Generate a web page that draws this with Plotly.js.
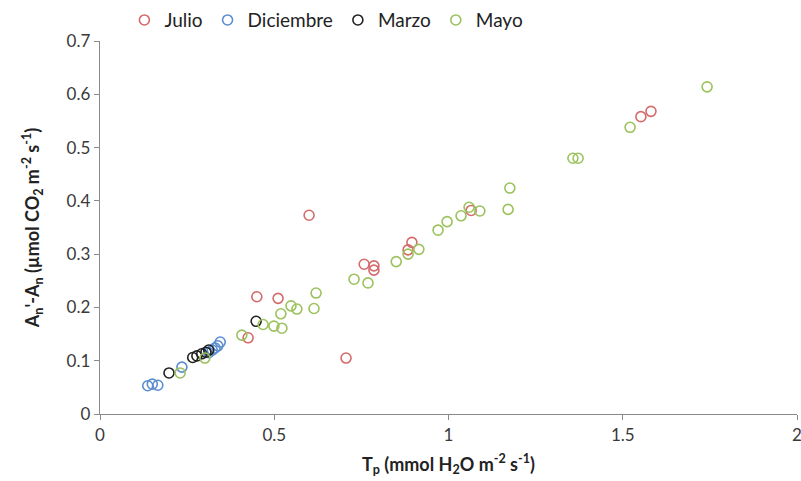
<!DOCTYPE html>
<html>
<head>
<meta charset="utf-8">
<script src="https://cdn.plot.ly/plotly-3.0.1.min.js"></script>
<style>html,body{margin:0;padding:0;background:#fff;}#chart{width:801px;height:481px;}</style>
</head>
<body>
<div id="chart"></div>
<script>
const julioX = [0.600, 0.895, 0.884, 0.758, 0.786, 0.786, 0.450, 0.511, 0.425, 0.706, 1.065, 1.552, 1.581];
const julioY = [0.373, 0.322, 0.308, 0.281, 0.278, 0.270, 0.220, 0.217, 0.143, 0.105, 0.382, 0.558, 0.568];

const diciembreX = [0.137, 0.150, 0.166, 0.235, 0.312, 0.322, 0.330, 0.338, 0.345];
const diciembreY = [0.053, 0.056, 0.054, 0.088, 0.115, 0.120, 0.124, 0.128, 0.135];

const marzoX = [0.198, 0.266, 0.278, 0.292, 0.304, 0.312, 0.448];
const marzoY = [0.077, 0.106, 0.109, 0.113, 0.116, 0.120, 0.174];

const mayoX = [1.742, 1.521, 1.357, 1.372, 1.176, 1.171, 1.090, 1.059, 1.036, 0.996, 0.970, 0.915, 0.884, 0.850, 0.769, 0.729, 0.620, 0.614, 0.548, 0.565, 0.519, 0.468, 0.499, 0.522, 0.407, 0.230, 0.301];
const mayoY = [0.614, 0.538, 0.480, 0.480, 0.424, 0.384, 0.381, 0.388, 0.372, 0.361, 0.345, 0.309, 0.300, 0.286, 0.246, 0.253, 0.227, 0.198, 0.203, 0.197, 0.188, 0.168, 0.165, 0.161, 0.148, 0.077, 0.105];

const xTicks = [0, 0.5, 1, 1.5, 2];
const xTickText = ['0', '0.5', '1', '1.5', '2'];
const yTicks = [0, 0.1, 0.2, 0.3, 0.4, 0.5, 0.6, 0.7];
const yTickText = ['0', '0.1', '0.2', '0.3', '0.4', '0.5', '0.6', '0.7'];

const seriesNames = ['Julio', 'Diciembre', 'Marzo', 'Mayo'];
const seriesColors = ['#D46A6A', '#5B8DD0', '#222222', '#9BC25C'];
const xs = [julioX, diciembreX, marzoX, mayoX];
const ys = [julioY, diciembreY, marzoY, mayoY];

const traces = seriesNames.map((n, i) => ({
  type: 'scatter', mode: 'markers', name: n,
  x: xs[i], y: ys[i], cliponaxis: false,
  marker: {symbol: 'circle-open', size: 10, color: seriesColors[i], line: {width: 1.6, color: seriesColors[i]}}
}));

const fam = 'Lato, "Open Sans", sans-serif';
const layout = {
  width: 801, height: 481,
  margin: {l: 100, r: 4, t: 41, b: 67, autoexpand: false},
  paper_bgcolor: '#fff', plot_bgcolor: '#fff',
  font: {family: fam, size: 17, color: '#3a3a3a'},
  showlegend: true,
  legend: {orientation: 'h', x: 0.035, xanchor: 'left', y: 1.056, yanchor: 'middle',
           font: {family: fam, size: 19, color: '#222'}, tracegroupgap: 0},
  xaxis: {range: [0, 2], tickmode: 'array', tickvals: xTicks, ticktext: xTickText,
          showgrid: false, zeroline: false, automargin: false, ticklabeloverflow: 'allow',
          showline: true, linecolor: '#8a8a8a', linewidth: 1.3,
          ticks: 'outside', ticklen: 5, tickcolor: '#8a8a8a',
          tickfont: {size: 17, color: '#3a3a3a'},
          title: {text: '<b>T<sub>p</sub> (mmol H<sub>2</sub>O m<sup>-2</sup> s<sup>-1</sup>)</b>', font: {size: 18, color: '#222'}, standoff: 14}},
  yaxis: {range: [0, 0.7], tickmode: 'array', tickvals: yTicks, ticktext: yTickText,
          showgrid: false, zeroline: false, automargin: false,
          showline: true, linecolor: '#8a8a8a', linewidth: 1.3,
          ticks: 'outside', ticklen: 5, tickcolor: '#8a8a8a',
          tickfont: {size: 17, color: '#3a3a3a'},
          title: {text: "<b>A<sub>n</sub>'-A<sub>n</sub> (µmol CO<sub>2</sub> m<sup>-2</sup> s<sup>-1</sup>)</b>", font: {size: 18, color: '#222'}, standoff: 22}}
};

Plotly.newPlot('chart', traces, layout, {displayModeBar: false, staticPlot: true});
</script>
</body>
</html>
